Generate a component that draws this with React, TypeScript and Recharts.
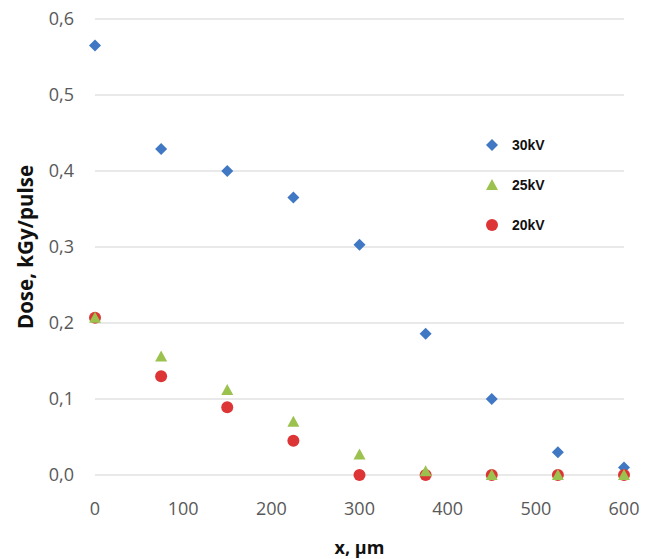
import React from 'react'
import { ScatterChart, Scatter, XAxis, YAxis, CartesianGrid, Label } from 'recharts'

// depth positions (µm)
const xPositions = [0, 75, 150, 225, 300, 375, 450, 525, 600]

// dose per pulse (kGy)
const dose30kV = [0.565, 0.429, 0.4, 0.365, 0.303, 0.186, 0.1, 0.03, 0.01]
const dose25kV = [0.207, 0.156, 0.112, 0.07, 0.027, 0.005, 0, 0, 0]
const dose20kV = [0.207, 0.13, 0.089, 0.045, 0, 0, 0, 0, 0]

const xTicks = [0, 100, 200, 300, 400, 500, 600]
const yTicks = [0, 0.1, 0.2, 0.3, 0.4, 0.5, 0.6]

const BLUE = '#4078c4'
const GREEN = '#9bc24f'
const RED = '#dd3535'

const toPoints = (ys: number[]) => xPositions.map((x, i) => ({ x, y: ys[i] }))

const series = [
  { name: '30kV', data: toPoints(dose30kV), color: BLUE, kind: 'diamond' },
  { name: '25kV', data: toPoints(dose25kV), color: GREEN, kind: 'triangle' },
  { name: '20kV', data: toPoints(dose20kV), color: RED, kind: 'circle' },
]

function Marker({ cx, cy, kind, color }: { cx: number; cy: number; kind: string; color: string }) {
  if (cx == null || cy == null) return null
  if (kind === 'diamond') {
    const r = 6
    return <polygon points={`${cx},${cy - r} ${cx + r},${cy} ${cx},${cy + r} ${cx - r},${cy}`} fill={color} />
  }
  if (kind === 'triangle') {
    return <polygon points={`${cx},${cy - 6} ${cx + 6},${cy + 5} ${cx - 6},${cy + 5}`} fill={color} />
  }
  return <circle cx={cx} cy={cy} r={6} fill={color} />
}

const fmtComma = (v: number) => v.toFixed(1).replace('.', ',')

// legend sits inside the plot, drawn over the chart
function LegendBox() {
  return (
    <div
      style={{
        position: 'absolute',
        left: 484,
        top: 125,
        fontFamily: '"Liberation Sans", Arial, sans-serif',
        fontWeight: 'bold',
        fontSize: 14,
        color: '#111',
      }}
    >
      {series.map((s) => (
        <div key={s.name} style={{ display: 'flex', alignItems: 'center', height: 40 }}>
          <svg width={18} height={14} style={{ marginRight: 10 }}>
            <Marker cx={8} cy={7} kind={s.kind} color={s.color} />
          </svg>
          <span>{s.name}</span>
        </div>
      ))}
    </div>
  )
}

export default function App() {
  const tickStyle = { fontFamily: '"Open Sans", sans-serif', fontSize: 18, fill: '#595959' }
  const titleFont = '"Open Sans", sans-serif'
  return (
    <div style={{ position: 'absolute', left: 0, top: 0, width: 651, height: 559, background: '#fff' }}>
      <ScatterChart width={651} height={559} margin={{ top: 19, right: 27, bottom: 0, left: 0 }}>
        <CartesianGrid vertical={false} stroke="#d4d4d4" strokeWidth={1.2} />
        <XAxis
          type="number"
          dataKey="x"
          domain={[0, 600]}
          ticks={xTicks}
          height={84}
          axisLine={false}
          tickLine={false}
          tickSize={0}
          tickMargin={27}
          tick={tickStyle}
        >
          <Label
            content={({ viewBox }: any) => (
              <text
                x={viewBox.x + viewBox.width / 2}
                y={viewBox.y + 79}
                textAnchor="middle"
                fontFamily={titleFont}
                fontWeight="bold"
                fontSize={18}
                fill="#111"
              >
                x, µm
              </text>
            )}
          />
        </XAxis>
        <YAxis
          type="number"
          dataKey="y"
          domain={[0, 0.6]}
          ticks={yTicks}
          width={95}
          axisLine={false}
          tickLine={false}
          tickSize={0}
          tickMargin={21}
          tickFormatter={fmtComma}
          tick={tickStyle}
        >
          <Label
            content={({ viewBox }: any) => {
              const cx = viewBox.x + 25
              const cy = viewBox.y + viewBox.height / 2
              return (
                <text
                  x={cx}
                  y={cy}
                  transform={`rotate(-90, ${cx}, ${cy})`}
                  textAnchor="middle"
                  dominantBaseline="central"
                  fontFamily={titleFont}
                  fontWeight="bold"
                  fontSize={20.5}
                  fill="#111"
                >
                  Dose, kGy/pulse
                </text>
              )
            }}
          />
        </YAxis>
        <Scatter
          name="30kV"
          data={series[0].data}
          isAnimationActive={false}
          shape={(p: any) => <Marker cx={p.cx} cy={p.cy} kind="diamond" color={BLUE} />}
        />
        <Scatter
          name="20kV"
          data={series[2].data}
          isAnimationActive={false}
          shape={(p: any) => <Marker cx={p.cx} cy={p.cy} kind="circle" color={RED} />}
        />
        <Scatter
          name="25kV"
          data={series[1].data}
          isAnimationActive={false}
          shape={(p: any) => <Marker cx={p.cx} cy={p.cy} kind="triangle" color={GREEN} />}
        />
      </ScatterChart>
      <LegendBox />
    </div>
  )
}
